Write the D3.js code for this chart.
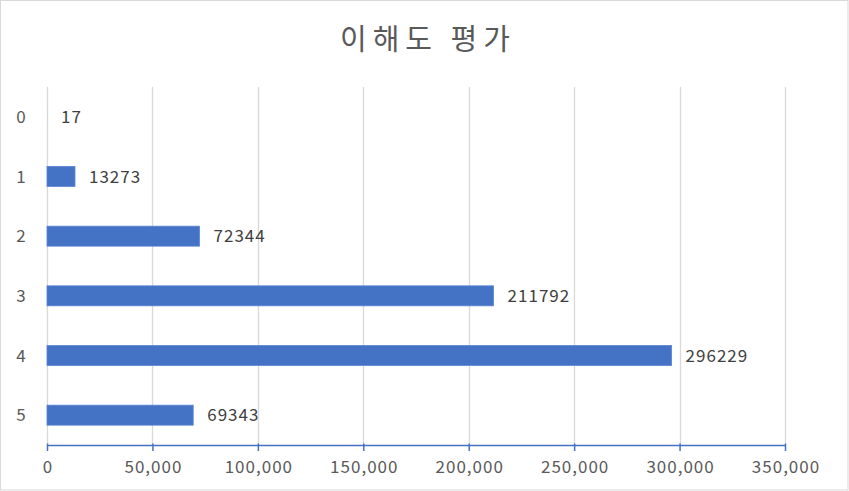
<!DOCTYPE html>
<html><head><meta charset="utf-8">
<script src="https://cdn.jsdelivr.net/npm/d3@7"></script>
<style>
html,body{margin:0;padding:0;background:#fff;}
svg{display:block;}
text{font-family:"Noto Sans CJK KR","Noto Sans",sans-serif;}
</style></head>
<body>
<script>
const title = "이해도 평가";
const categories = ["0","1","2","3","4","5"];
const values = [17, 13273, 72344, 211792, 296229, 69343];
const xTicks = [0, 50000, 100000, 150000, 200000, 250000, 300000, 350000];

const W = 849, H = 491;
const m = {left:47, right:64, top:87, bottom:46};
const svg = d3.select("body").append("svg").attr("width", W).attr("height", H);

svg.append("rect").attr("x",0.5).attr("y",0.5).attr("width",W-1.5).attr("height",H-1.5)
  .attr("fill","#fff").attr("stroke","#d9d9d9");

const x = d3.scaleLinear().domain([0, 350000]).range([m.left, W - m.right]);
const y = d3.scaleBand().domain(categories).range([m.top, H - m.bottom])
  .paddingInner(0.665).paddingOuter(0.3325);

svg.append("text").attr("x", 340).attr("y", 50).attr("text-anchor","start")
  .attr("font-size", 29).attr("letter-spacing", "6px").attr("fill","#595959").text(title);

// gridlines
svg.append("g").selectAll("line").data(xTicks).join("line")
  .attr("x1", d => Math.round(x(d)) + 0.5).attr("x2", d => Math.round(x(d)) + 0.5)
  .attr("y1", m.top).attr("y2", H - m.bottom)
  .attr("stroke","#d9d9d9").attr("stroke-width",1.3);

// bars
svg.append("g").selectAll("rect").data(values).join("rect")
  .attr("x", x(0)).attr("y", (d,i) => y(categories[i]))
  .attr("width", d => x(d) - x(0)).attr("height", y.bandwidth())
  .attr("fill","#4472c4")
  .attr("stroke", d => (x(d) - x(0)) > 2 ? "#5b86d6" : "none").attr("stroke-width",0.8);

// value labels
svg.append("g").selectAll("text").data(values).join("text")
  .attr("x", d => x(d) + 14).attr("y", (d,i) => y(categories[i]) + y.bandwidth()/2)
  .attr("dy","0.36em").attr("font-size",17).attr("letter-spacing","1px")
  .attr("fill","#404040").text(d => d);

// category labels
svg.append("g").selectAll("text").data(categories).join("text")
  .attr("x", 21).attr("y", d => y(d) + y.bandwidth()/2)
  .attr("dy","0.36em").attr("text-anchor","middle").attr("font-size",17).attr("fill","#595959").text(d => d);

// x axis
const axis = d3.axisBottom(x).tickValues(xTicks).tickFormat(d3.format(",")).tickSize(6).tickSizeOuter(0);
const ag = svg.append("g").attr("transform", `translate(0,${H - m.bottom})`).call(axis);
ag.select(".domain").attr("stroke","#4472c4").attr("stroke-width",1.5);
ag.selectAll(".tick line").attr("stroke","#4472c4").attr("stroke-width",1.5).attr("y1",-1.5);
ag.selectAll(".tick text").attr("font-size",17).attr("fill","#595959").attr("y",17).attr("dy","0.62em")
  .attr("letter-spacing","1px").attr("dx","0.5px")
  .attr("font-family",'"Noto Sans CJK KR","Noto Sans",sans-serif');
</script>
</body></html>
